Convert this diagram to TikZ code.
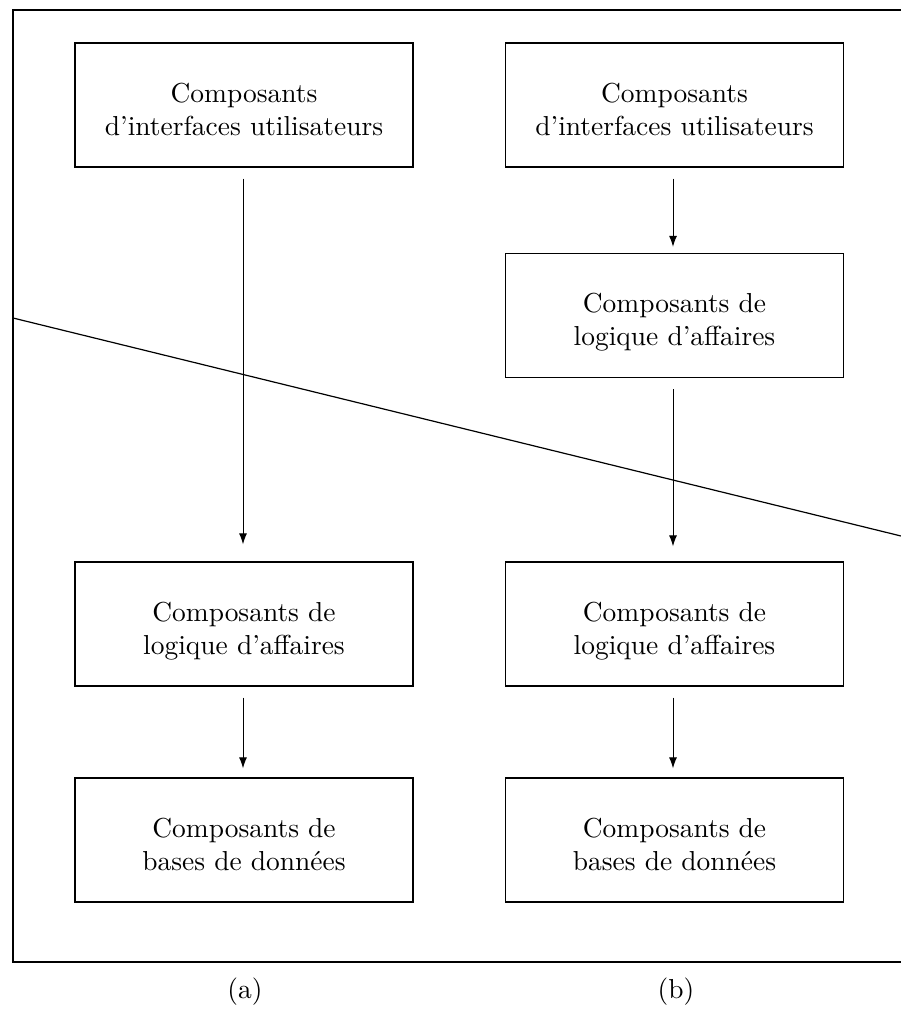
\documentclass[tikz,border=0pt]{standalone}
\usepackage{fontspec}
\usepackage{graphicx}
\usetikzlibrary{arrows.meta}
% two-line label set at 10pt and enlarged, lowered a little inside its box
\newcommand\boxlabel[1]{\raisebox{-7pt}[\height][\depth]{\scalebox{2.745}{\begin{tabular}{@{}c@{}}#1\end{tabular}}}}
\begin{document}
\begin{tikzpicture}[x=1pt,y=-1pt,
  comp/.style={draw, line width=1.3pt, minimum width=338pt, minimum height=124pt,
    inner sep=0pt, align=center},
  flow/.style={draw, line width=1pt, -{Latex[length=11pt,width=8pt]}},
  caption/.style={inner sep=0pt}]
  \useasboundingbox (0,0) rectangle (901,1011);
  \clip (0,0) rectangle (901,1011);

  % outer frame (its right side runs past the page edge)
  \draw[line width=1.3pt] (920,10) -- (13,10) -- (13,962) -- (920,962);

  % column (a)
  \node[comp] (a1) at (244,105) {\boxlabel{Composants\\d’interfaces utilisateurs}};
  \node[comp] (a2) at (244,624) {\boxlabel{Composants de\\logique d’affaires}};
  \node[comp] (a3) at (244,840) {\boxlabel{Composants de\\bases de données}};

  % column (b)
  \node[comp] (b1) at (674.5,105) {\boxlabel{Composants\\d’interfaces utilisateurs}};
  \node[comp] (b2) at (674.5,315.5) {\boxlabel{Composants de\\logique d’affaires}};
  \node[comp] (b3) at (674.5,624) {\boxlabel{Composants de\\logique d’affaires}};
  \node[comp] (b4) at (674.5,840) {\boxlabel{Composants de\\bases de données}};

  % connectors
  \draw[flow, shorten <=11pt, shorten >=17pt] (a1.south -| 243,0) -- (a2.north -| 243,0);
  \draw[flow, shorten <=11pt, shorten >=9pt] (a2.south -| 243,0) -- (a3.north -| 243,0);
  \draw[flow, shorten <=11pt, shorten >=6pt] (b1.south -| 673,0) -- (b2.north -| 673,0);
  \draw[flow, shorten <=11pt, shorten >=15pt] (b2.south -| 673,0) -- (b3.north -| 673,0);
  \draw[flow, shorten <=11pt, shorten >=9pt] (b3.south -| 673,0) -- (b4.north -| 673,0);

  % tier boundary
  \coordinate (cutL) at (13,318);
  \coordinate (cutR) at (901,536);
  \draw[line width=1.2pt] (cutL) -- (cutR);

  % sub-figure captions
  \node[caption] (capa) at (245,992) {\scalebox{2.745}{(a)}};
  \node[caption] (capb) at (676,992) {\scalebox{2.745}{(b)}};
\end{tikzpicture}
\end{document}
